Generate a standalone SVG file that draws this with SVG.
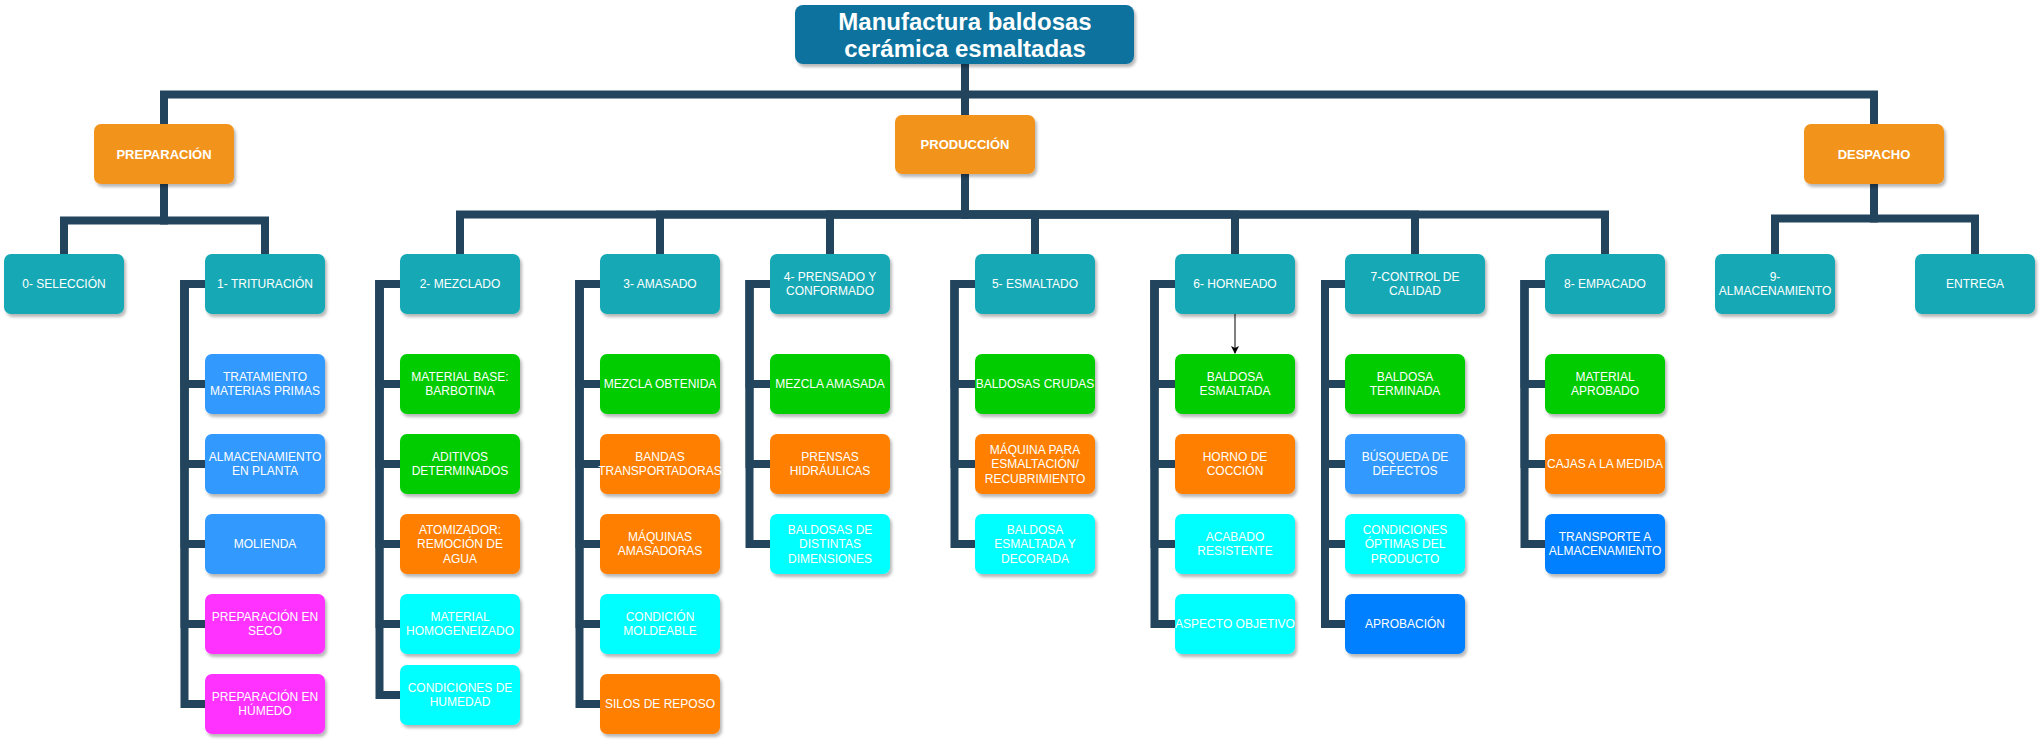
<svg xmlns="http://www.w3.org/2000/svg" width="2040" height="742" viewBox="0 0 2040 742">
<defs>
<filter id="sh" x="-10%" y="-10%" width="125%" height="135%">
<feDropShadow dx="2" dy="3" stdDeviation="1.8" flood-color="#000" flood-opacity="0.28"/>
</filter>
<marker id="arr" markerWidth="8" markerHeight="8" refX="7" refY="4" orient="auto" markerUnits="userSpaceOnUse">
<path d="M0,0 L8,4 L0,8 L2,4 Z" fill="#000"/>
</marker>
</defs>
<style>
rect{filter:url(#sh)}
.title{fill:#10739E}
.l1{fill:#F2931E}
.l2{fill:#13A9B5}
.bl{fill:#3399FF}
.mg{fill:#FF33FF}
.gr{fill:#00CC00}
.or{fill:#FF8000}
.cy{fill:#00FFFF}
.db{fill:#007FFF}
text{font-family:"Liberation Sans",Arial,sans-serif;fill:#fff;text-anchor:middle;font-size:12px}
.tt{font-size:24px;font-weight:bold}
.t1{font-size:13px;font-weight:bold}
.ln{fill:none;stroke:#23445D;stroke-width:8;stroke-linejoin:miter;stroke-linecap:butt}
.ar{fill:none;stroke:#000;stroke-width:1}
</style>
<rect width="2040" height="742" fill="#fff" style="filter:none"/>

<g id="connectors">
<path class="ln" d="M965,64 V94.5 H164 V124"/>
<path class="ln" d="M965,64 V94.5 H1874 V124"/>
<path class="ln" d="M965,64 V115"/>
<path class="ln" d="M164,184 V220.5 H64 V254"/>
<path class="ln" d="M164,184 V220.5 H265 V254"/>
<path class="ln" d="M965,174 V214.5 H460 V254"/>
<path class="ln" d="M965,174 V214.5 H660 V254"/>
<path class="ln" d="M965,174 V214.5 H830 V254"/>
<path class="ln" d="M965,174 V214.5 H1035 V254"/>
<path class="ln" d="M965,174 V214.5 H1235 V254"/>
<path class="ln" d="M965,174 V214.5 H1415 V254"/>
<path class="ln" d="M965,174 V214.5 H1605 V254"/>
<path class="ln" d="M1874,184 V218.5 H1775 V254"/>
<path class="ln" d="M1874,184 V218.5 H1975 V254"/>
<!-- trituracion -->
<path class="ln" d="M205,284 H184.5 V384 H205"/>
<path class="ln" d="M205,284 H184.5 V464 H205"/>
<path class="ln" d="M205,284 H184.5 V544 H205"/>
<path class="ln" d="M205,284 H184.5 V624 H205"/>
<path class="ln" d="M205,284 H184.5 V704 H205"/>
<!-- mezclado -->
<path class="ln" d="M400,284 H379.5 V384 H400"/>
<path class="ln" d="M400,284 H379.5 V464 H400"/>
<path class="ln" d="M400,284 H379.5 V544 H400"/>
<path class="ln" d="M400,284 H379.5 V624 H400"/>
<path class="ln" d="M400,284 H379.5 V695 H400"/>
<!-- amasado -->
<path class="ln" d="M600,284 H579.5 V384 H600"/>
<path class="ln" d="M600,284 H579.5 V464 H600"/>
<path class="ln" d="M600,284 H579.5 V544 H600"/>
<path class="ln" d="M600,284 H579.5 V624 H600"/>
<path class="ln" d="M600,284 H579.5 V704 H600"/>
<!-- prensado -->
<path class="ln" d="M770,284 H749.5 V384 H770"/>
<path class="ln" d="M770,284 H749.5 V464 H770"/>
<path class="ln" d="M770,284 H749.5 V544 H770"/>
<!-- esmaltado -->
<path class="ln" d="M975,284 H954.5 V384 H975"/>
<path class="ln" d="M975,284 H954.5 V464 H975"/>
<path class="ln" d="M975,284 H954.5 V544 H975"/>
<!-- horneado -->
<path class="ln" d="M1175,284 H1154.5 V384 H1175"/>
<path class="ln" d="M1175,284 H1154.5 V464 H1175"/>
<path class="ln" d="M1175,284 H1154.5 V544 H1175"/>
<path class="ln" d="M1175,284 H1154.5 V624 H1175"/>
<!-- control -->
<path class="ln" d="M1345,284 H1325 V384 H1345"/>
<path class="ln" d="M1345,284 H1325 V464 H1345"/>
<path class="ln" d="M1345,284 H1325 V544 H1345"/>
<path class="ln" d="M1345,284 H1325 V624 H1345"/>
<!-- empacado -->
<path class="ln" d="M1545,284 H1524.5 V384 H1545"/>
<path class="ln" d="M1545,284 H1524.5 V464 H1545"/>
<path class="ln" d="M1545,284 H1524.5 V544 H1545"/>
<path class="ar" d="M1235,314 V353" marker-end="url(#arr)"/>
</g>

<g id="n-title"><rect class="title" x="795" y="5" width="339" height="59" rx="8"/><text class="tt" x="965" y="29.5">Manufactura baldosas</text><text class="tt" x="965" y="57">cerámica esmaltadas</text></g>

<g id="n-preparacion"><rect class="l1" x="94" y="124" width="140" height="60" rx="7"/><text class="t1" x="164" y="158.7">PREPARACIÓN</text></g>
<g id="n-produccion"><rect class="l1" x="895" y="115" width="140" height="59" rx="7"/><text class="t1" x="965" y="149.2">PRODUCCIÓN</text></g>
<g id="n-despacho"><rect class="l1" x="1804" y="124" width="140" height="60" rx="7"/><text class="t1" x="1874" y="158.7">DESPACHO</text></g>

<g id="n-0"><rect class="l2" x="4" y="254" width="120" height="60" rx="7"/><text x="64" y="288.3">0- SELECCIÓN</text></g>
<g id="n-1"><rect class="l2" x="205" y="254" width="120" height="60" rx="7"/><text x="265" y="288.3">1- TRITURACIÓN</text></g>
<g id="n-2"><rect class="l2" x="400" y="254" width="120" height="60" rx="7"/><text x="460" y="288.3">2- MEZCLADO</text></g>
<g id="n-3"><rect class="l2" x="600" y="254" width="120" height="60" rx="7"/><text x="660" y="288.3">3- AMASADO</text></g>
<g id="n-4"><rect class="l2" x="770" y="254" width="120" height="60" rx="7"/><text x="830" y="280.8">4- PRENSADO Y</text><text x="830" y="295.2">CONFORMADO</text></g>
<g id="n-5"><rect class="l2" x="975" y="254" width="120" height="60" rx="7"/><text x="1035" y="288.3">5- ESMALTADO</text></g>
<g id="n-6"><rect class="l2" x="1175" y="254" width="120" height="60" rx="7"/><text x="1235" y="288.3">6- HORNEADO</text></g>
<g id="n-7"><rect class="l2" x="1345" y="254" width="140" height="60" rx="7"/><text x="1415" y="280.8">7-CONTROL DE</text><text x="1415" y="295.2">CALIDAD</text></g>
<g id="n-8"><rect class="l2" x="1545" y="254" width="120" height="60" rx="7"/><text x="1605" y="288.3">8- EMPACADO</text></g>
<g id="n-9"><rect class="l2" x="1715" y="254" width="120" height="60" rx="7"/><text x="1775" y="280.8">9-</text><text x="1775" y="295.2">ALMACENAMIENTO</text></g>
<g id="n-entrega"><rect class="l2" x="1915" y="254" width="120" height="60" rx="7"/><text x="1975" y="288.3">ENTREGA</text></g>

<!-- trituracion leaves -->
<g id="n-1a"><rect class="bl" x="205" y="354" width="120" height="60" rx="7"/><text x="265" y="380.8">TRATAMIENTO</text><text x="265" y="395.2">MATERIAS PRIMAS</text></g>
<g id="n-1b"><rect class="bl" x="205" y="434" width="120" height="60" rx="7"/><text x="265" y="460.8">ALMACENAMIENTO</text><text x="265" y="475.2">EN PLANTA</text></g>
<g id="n-1c"><rect class="bl" x="205" y="514" width="120" height="60" rx="7"/><text x="265" y="548.3">MOLIENDA</text></g>
<g id="n-1d"><rect class="mg" x="205" y="594" width="120" height="60" rx="7"/><text x="265" y="620.8">PREPARACIÓN EN</text><text x="265" y="635.2">SECO</text></g>
<g id="n-1e"><rect class="mg" x="205" y="674" width="120" height="60" rx="7"/><text x="265" y="700.8">PREPARACIÓN EN</text><text x="265" y="715.2">HÚMEDO</text></g>

<!-- mezclado leaves -->
<g id="n-2a"><rect class="gr" x="400" y="354" width="120" height="60" rx="7"/><text x="460" y="380.8">MATERIAL BASE:</text><text x="460" y="395.2">BARBOTINA</text></g>
<g id="n-2b"><rect class="gr" x="400" y="434" width="120" height="60" rx="7"/><text x="460" y="460.8">ADITIVOS</text><text x="460" y="475.2">DETERMINADOS</text></g>
<g id="n-2c"><rect class="or" x="400" y="514" width="120" height="60" rx="7"/><text x="460" y="533.8">ATOMIZADOR:</text><text x="460" y="548.3">REMOCIÓN DE</text><text x="460" y="562.8">AGUA</text></g>
<g id="n-2d"><rect class="cy" x="400" y="594" width="120" height="60" rx="7"/><text x="460" y="620.8">MATERIAL</text><text x="460" y="635.2">HOMOGENEIZADO</text></g>
<g id="n-2e"><rect class="cy" x="400" y="665" width="120" height="60" rx="7"/><text x="460" y="691.8">CONDICIONES DE</text><text x="460" y="706.2">HUMEDAD</text></g>

<!-- amasado leaves -->
<g id="n-3a"><rect class="gr" x="600" y="354" width="120" height="60" rx="7"/><text x="660" y="388.3">MEZCLA OBTENIDA</text></g>
<g id="n-3b"><rect class="or" x="600" y="434" width="120" height="60" rx="7"/><text x="660" y="460.8">BANDAS</text><text x="660" y="475.2">TRANSPORTADORAS</text></g>
<g id="n-3c"><rect class="or" x="600" y="514" width="120" height="60" rx="7"/><text x="660" y="540.8">MÁQUINAS</text><text x="660" y="555.2">AMASADORAS</text></g>
<g id="n-3d"><rect class="cy" x="600" y="594" width="120" height="60" rx="7"/><text x="660" y="620.8">CONDICIÓN</text><text x="660" y="635.2">MOLDEABLE</text></g>
<g id="n-3e"><rect class="or" x="600" y="674" width="120" height="60" rx="7"/><text x="660" y="708.3">SILOS DE REPOSO</text></g>

<!-- prensado leaves -->
<g id="n-4a"><rect class="gr" x="770" y="354" width="120" height="60" rx="7"/><text x="830" y="388.3">MEZCLA AMASADA</text></g>
<g id="n-4b"><rect class="or" x="770" y="434" width="120" height="60" rx="7"/><text x="830" y="460.8">PRENSAS</text><text x="830" y="475.2">HIDRÁULICAS</text></g>
<g id="n-4c"><rect class="cy" x="770" y="514" width="120" height="60" rx="7"/><text x="830" y="533.8">BALDOSAS DE</text><text x="830" y="548.3">DISTINTAS</text><text x="830" y="562.8">DIMENSIONES</text></g>

<!-- esmaltado leaves -->
<g id="n-5a"><rect class="gr" x="975" y="354" width="120" height="60" rx="7"/><text x="1035" y="388.3">BALDOSAS CRUDAS</text></g>
<g id="n-5b"><rect class="or" x="975" y="434" width="120" height="60" rx="7"/><text x="1035" y="453.8">MÁQUINA PARA</text><text x="1035" y="468.3">ESMALTACIÓN/</text><text x="1035" y="482.8">RECUBRIMIENTO</text></g>
<g id="n-5c"><rect class="cy" x="975" y="514" width="120" height="60" rx="7"/><text x="1035" y="533.8">BALDOSA</text><text x="1035" y="548.3">ESMALTADA Y</text><text x="1035" y="562.8">DECORADA</text></g>

<!-- horneado leaves -->
<g id="n-6a"><rect class="gr" x="1175" y="354" width="120" height="60" rx="7"/><text x="1235" y="380.8">BALDOSA</text><text x="1235" y="395.2">ESMALTADA</text></g>
<g id="n-6b"><rect class="or" x="1175" y="434" width="120" height="60" rx="7"/><text x="1235" y="460.8">HORNO DE</text><text x="1235" y="475.2">COCCIÓN</text></g>
<g id="n-6c"><rect class="cy" x="1175" y="514" width="120" height="60" rx="7"/><text x="1235" y="540.8">ACABADO</text><text x="1235" y="555.2">RESISTENTE</text></g>
<g id="n-6d"><rect class="cy" x="1175" y="594" width="120" height="60" rx="7"/><text x="1235" y="628.3">ASPECTO OBJETIVO</text></g>

<!-- control leaves -->
<g id="n-7a"><rect class="gr" x="1345" y="354" width="120" height="60" rx="7"/><text x="1405" y="380.8">BALDOSA</text><text x="1405" y="395.2">TERMINADA</text></g>
<g id="n-7b"><rect class="bl" x="1345" y="434" width="120" height="60" rx="7"/><text x="1405" y="460.8">BÚSQUEDA DE</text><text x="1405" y="475.2">DEFECTOS</text></g>
<g id="n-7c"><rect class="cy" x="1345" y="514" width="120" height="60" rx="7"/><text x="1405" y="533.8">CONDICIONES</text><text x="1405" y="548.3">ÓPTIMAS DEL</text><text x="1405" y="562.8">PRODUCTO</text></g>
<g id="n-7d"><rect class="db" x="1345" y="594" width="120" height="60" rx="7"/><text x="1405" y="628.3">APROBACIÓN</text></g>

<!-- empacado leaves -->
<g id="n-8a"><rect class="gr" x="1545" y="354" width="120" height="60" rx="7"/><text x="1605" y="380.8">MATERIAL</text><text x="1605" y="395.2">APROBADO</text></g>
<g id="n-8b"><rect class="or" x="1545" y="434" width="120" height="60" rx="7"/><text x="1605" y="468.3">CAJAS A LA MEDIDA</text></g>
<g id="n-8c"><rect class="db" x="1545" y="514" width="120" height="60" rx="7"/><text x="1605" y="540.8">TRANSPORTE A</text><text x="1605" y="555.2">ALMACENAMIENTO</text></g>
</svg>
